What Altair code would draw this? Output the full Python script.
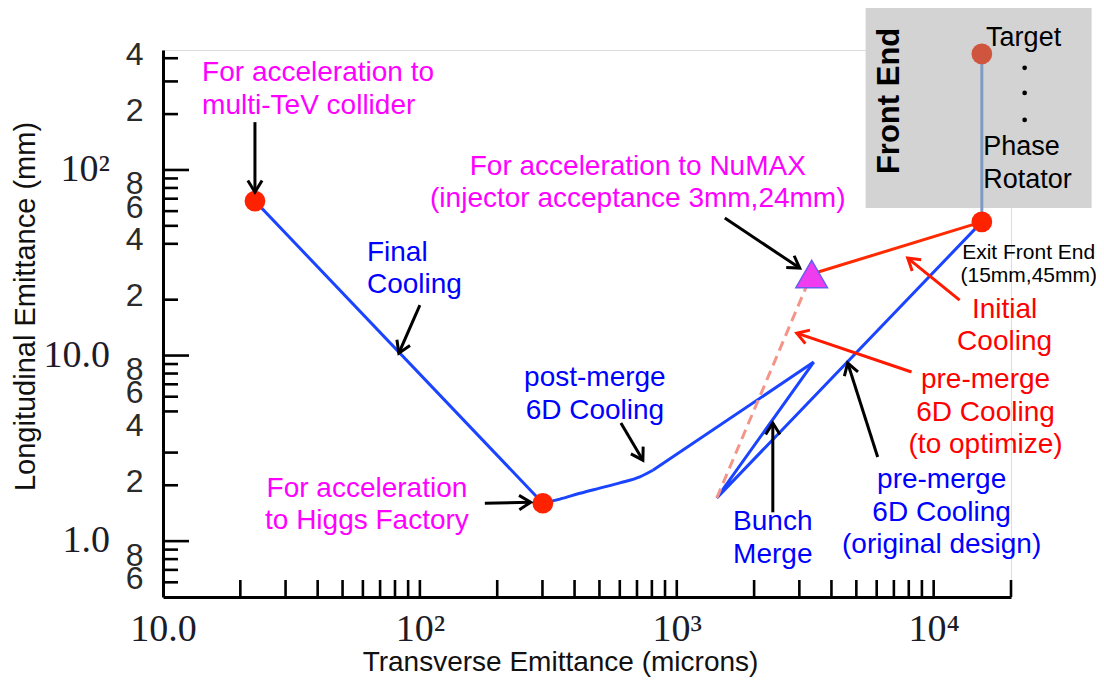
import math
import altair as alt
import pandas as pd

# ---------------- data ----------------
# final cooling (straight)
final_x = [22.8, 301]
final_y = [68, 1.60]

# post-merge 6D cooling: curved part, then straight part
post_x = [301, 351, 420, 501, 600, 718, 807]
post_y = [1.60, 1.685, 1.81, 1.93, 2.06, 2.22, 2.41]
post2_x = [807, 3412]
post2_y = [2.41, 9.22]

# bunch merge -> pre-merge 6D cooling (original design)
pre_x = [3412, 1432, 15400]
pre_y = [9.22, 1.71, 52.5]

# initial cooling (red)
init_x = [3350, 15400]
init_y = [27.5, 52.5]

# pre-merge 6D cooling, to optimize (dashed)
dash_x = [1432, 3350]
dash_y = [1.71, 27.5]

# front end (target -> exit)
fe_x = [15400, 15400]
fe_y = [52.5, 422]

dot_x = [22.8, 301, 15400]
dot_y = [68, 1.60, 52.5]
target_x = [15400]
target_y = [422]
numax_x = [3350]
numax_y = [27.5]

# annotation arrows (start -> end)
arrow_x1 = [22.8, 100, 179, 606, 1538, 2365, 6053, 12620, 8200]
arrow_y1 = [181, 18.7, 1.60, 4.33, 55.1, 1.43, 2.84, 19.9, 8.15]
arrow_x2 = [22.8, 82.8, 270, 738, 3011, 2365, 4627, 7925, 2931]
arrow_y2 = [76, 10.3, 1.62, 2.73, 29.6, 4.33, 9.11, 33.5, 13.2]
arrow_col = ["#000000"] * 7 + ["#ff1a00"] * 2

# annotation texts (y = first line)
left_text = ["For acceleration to\nmulti-TeV collider", "Final\nCooling"]
left_x = [14.2, 62.2]
left_y = [333, 35.7]
left_col = ["#ff00ff", "#0000ff"]

center_text = [
    "For acceleration to NuMAX\n(injector acceptance 3mm,24mm)",
    "post-merge\n6D Cooling",
    "For acceleration\nto Higgs Factory",
    "Bunch\nMerge",
    "pre-merge\n6D Cooling\n(original design)",
    "Initial\nCooling",
    "pre-merge\n6D Cooling\n(to optimize)",
]
center_x = [705, 480, 62.2, 2365, 10740, 18880, 15920]
center_y = [103.8, 7.56, 1.91, 1.266, 2.13, 17.6, 7.38]
center_col = ["#ff00ff", "#0000ff", "#ff00ff", "#0000ff", "#0000ff", "#ff0000", "#ff0000"]

exit_text = ["Exit Front End\n(15mm,45mm)"]
exit_x = [23440]
exit_y = [35.7]

# front-end inset
box_x = [5433]
box_x2 = [41200]
box_y = [62.4]
box_y2 = [747]
fe_title = ["Front End"]
fe_title_x = [6745]
fe_title_y = [235.5]
inset_text = ["Target", "Phase\nRotator"]
inset_x = [16000, 15600]
inset_y = [515, 133]
bullet_x = [22600, 22600, 22600]
bullet_y = [355, 260, 186]

# axes
x_label_vals = [10, 100, 1000, 10000]
x_label_text = ["10.0", "10²", "10³", "10⁴"]
x_tick_vals = [20, 30, 40, 50, 60, 70, 80, 90, 100, 200, 300, 400, 500, 600, 700, 800, 900,
               1000, 2000, 3000, 4000, 5000, 6000, 7000, 8000, 9000, 10000, 20000]
y_digit_vals = [0.6, 0.8, 2, 4, 6, 8, 20, 40, 60, 80, 200, 400]
y_major_vals = [100, 10, 1]
y_major_text = ["10²", "10.0", "1.0"]
y_minor_ticks = [0.6, 0.7, 0.8, 0.9, 2, 3, 5, 6, 7, 8, 9, 20, 40, 50, 60, 70, 80, 90, 200, 300, 400]

# ---------------- chart ----------------
W, H = 848, 547
XD = [10, 20000]
YD = [0.5, 443]
PXX = W / math.log10(XD[1] / XD[0])
PXY = H / math.log10(YD[1] / YD[0])

X_SCALE = alt.Scale(type="log", domain=XD, nice=False)
Y_SCALE = alt.Scale(type="log", domain=YD, nice=False)

x_label_expr = " : ".join(
    f"datum.value == {v} ? '{t}'" for v, t in zip(x_label_vals[:-1], x_label_text[:-1])
) + f" : '{x_label_text[-1]}'"

x_axis = alt.Axis(
    values=x_label_vals, labelExpr=x_label_expr, labelFont="Liberation Serif",
    labelFontSize=38, labelColor="#1c1c28", labelPadding=13, labelFlush=False,
    labelOverlap=False, ticks=False, tickSize=0, grid=False,
    domainColor="black", domainWidth=3,
    title="Transverse Emittance (microns)", titleFont="Liberation Sans",
    titleFontSize=28, titleFontWeight="normal", titleColor="#111111",
    titleX=397, titleY=65, titleAlign="center", titleBaseline="middle",
)
y_axis = alt.Axis(
    values=y_digit_vals,
    labelExpr="toString(round(datum.value / pow(10, floor(log(datum.value) / LN10 + 1e-9))))",
    labelFont="Liberation Sans", labelFontSize=32, labelColor="#2a2a2a",
    labelPadding=20, labelOffset=-4, labelFlush=False, labelOverlap=False,
    ticks=False, tickSize=0, grid=False, domainColor="black", domainWidth=3,
    title="Longitudinal Emittance (mm)", titleFont="Liberation Sans",
    titleFontSize=29, titleFontWeight="normal", titleColor="#111111",
    titleX=-138, titleY=256, titleAngle=270, titleAlign="center", titleBaseline="middle",
)


def X(f="x"):
    return alt.X(f"{f}:Q", scale=X_SCALE, axis=x_axis)


def Y(f="y"):
    return alt.Y(f"{f}:Q", scale=Y_SCALE, axis=y_axis)


FONT = "Liberation Sans"


def seg(xs, ys, **kw):
    df = pd.DataFrame({"x": xs, "y": ys, "i": list(range(len(xs)))})
    return alt.Chart(df).mark_line(**kw).encode(x=X(), y=Y(), order="i:Q")


# inset box
box = alt.Chart(pd.DataFrame({"x": box_x, "x2": box_x2, "y": box_y, "y2": box_y2})).mark_rect(
    color="#d3d3d3"
).encode(x=X(), x2="x2:Q", y=Y(), y2="y2:Q")

fe_line = seg(fe_x, fe_y, color="#7d9bc4", strokeWidth=3)

target = alt.Chart(pd.DataFrame({"x": target_x, "y": target_y})).mark_point(
    shape="circle", filled=True, size=430, color="#d0553f", opacity=1
).encode(x=X(), y=Y())

bullets = alt.Chart(pd.DataFrame({"x": bullet_x, "y": bullet_y})).mark_point(
    shape="circle", filled=True, size=22, color="black", opacity=1
).encode(x=X(), y=Y())

fe_title_layer = alt.Chart(pd.DataFrame({"x": fe_title_x, "y": fe_title_y, "t": fe_title})).mark_text(
    font=FONT, fontSize=31, fontWeight="bold", angle=270, align="center", baseline="middle", color="black"
).encode(x=X(), y=Y(), text="t:N")

inset_layer = alt.Chart(pd.DataFrame({"x": inset_x, "y": inset_y, "t": inset_text})).mark_text(
    font=FONT, fontSize=27, align="left", baseline="middle", color="black", lineBreak="\n", lineHeight=33
).encode(x=X(), y=Y(), text="t:N")

# ticks
y_minor = alt.Chart(pd.DataFrame({"y": y_minor_ticks})).mark_rule(color="black", strokeWidth=2.6).encode(
    y=Y(), x=alt.value(0), x2=alt.value(15))
y_major = alt.Chart(pd.DataFrame({"y": y_major_vals})).mark_rule(color="black", strokeWidth=2.6).encode(
    y=Y(), x=alt.value(0), x2=alt.value(26))
x_ticks = alt.Chart(pd.DataFrame({"x": x_tick_vals})).mark_rule(color="black", strokeWidth=2.6).encode(
    x=X(), y=alt.value(H), y2=alt.value(H - 17))

y_major_labels = alt.Chart(pd.DataFrame({"y": y_major_vals, "t": y_major_text})).mark_text(
    font="Liberation Serif", fontSize=38, align="right", baseline="middle", color="#1c1c28"
).encode(y=Y(), x=alt.value(-53), text="t:N")

# lines
final = seg(final_x, final_y, color="#1a44ff", strokeWidth=3)
post = seg(post_x, post_y, color="#1a44ff", strokeWidth=3, interpolate="monotone")
post2 = seg(post2_x, post2_y, color="#1a44ff", strokeWidth=3)
pre = seg(pre_x, pre_y, color="#1a44ff", strokeWidth=3)
init = seg(init_x, init_y, color="#ff2a00", strokeWidth=3)
dash = seg(dash_x, dash_y, color="#f5958a", strokeWidth=3, strokeDash=[10, 6])

dots = alt.Chart(pd.DataFrame({"x": dot_x, "y": dot_y})).mark_point(
    shape="circle", filled=True, size=430, color="#ff2200", opacity=1
).encode(x=X(), y=Y())

numax = alt.Chart(pd.DataFrame({"x": numax_x, "y": numax_y})).mark_point(
    shape="triangle-up", filled=True, size=1000, fill="#ee3cee", stroke="#6b5cf0",
    strokeWidth=1.5, opacity=1
).encode(x=X(), y=Y())

# arrows
angles = []
for a, b, c, d in zip(arrow_x1, arrow_y1, arrow_x2, arrow_y2):
    dx = PXX * (math.log10(c) - math.log10(a))
    dy = -PXY * (math.log10(d) - math.log10(b))
    angles.append(math.degrees(math.atan2(-dx, dy)) % 360)

arrow_df = pd.DataFrame({"x": arrow_x1, "y": arrow_y1, "x2": arrow_x2, "y2": arrow_y2,
                         "c": arrow_col, "a": angles})
arrow_lines = alt.Chart(arrow_df).mark_rule(strokeWidth=3).encode(
    x=X(), y=Y(), x2="x2:Q", y2="y2:Q", color=alt.Color("c:N", scale=None))
arrow_heads = alt.Chart(arrow_df).mark_point(
    shape="M -0.62 -1 L 0 0 L 0.62 -1", filled=False, size=530, strokeWidth=3, opacity=1
).encode(x=X("x2"), y=Y("y2"), color=alt.Color("c:N", scale=None), angle=alt.Angle("a:Q", scale=None))

# annotation texts
left_layer = alt.Chart(pd.DataFrame({"x": left_x, "y": left_y, "t": left_text, "c": left_col})).mark_text(
    font=FONT, fontSize=28, align="left", baseline="middle", lineBreak="\n", lineHeight=32.5
).encode(x=X(), y=Y(), text="t:N", color=alt.Color("c:N", scale=None))

center_layer = alt.Chart(pd.DataFrame({"x": center_x, "y": center_y, "t": center_text, "c": center_col})).mark_text(
    font=FONT, fontSize=28, align="center", baseline="middle", lineBreak="\n", lineHeight=32.5
).encode(x=X(), y=Y(), text="t:N", color=alt.Color("c:N", scale=None))

exit_layer = alt.Chart(pd.DataFrame({"x": exit_x, "y": exit_y, "t": exit_text})).mark_text(
    font=FONT, fontSize=21, align="center", baseline="middle", color="black", lineBreak="\n", lineHeight=23
).encode(x=X(), y=Y(), text="t:N")

chart = alt.layer(
    box, fe_line, target, bullets, fe_title_layer, inset_layer,
    y_minor, y_major, x_ticks, y_major_labels,
    final, post, post2, pre, init, dash, dots, numax,
    arrow_lines, arrow_heads,
    left_layer, center_layer, exit_layer,
).properties(
    width=W, height=H,
    autosize=alt.AutoSizeParams(type="none"),
    padding={"left": 155, "top": 42, "right": 85, "bottom": 80},
).configure_view(stroke=None).configure(background="white")

chart.save("out.html", embed_options={"renderer": "svg", "actions": False})
